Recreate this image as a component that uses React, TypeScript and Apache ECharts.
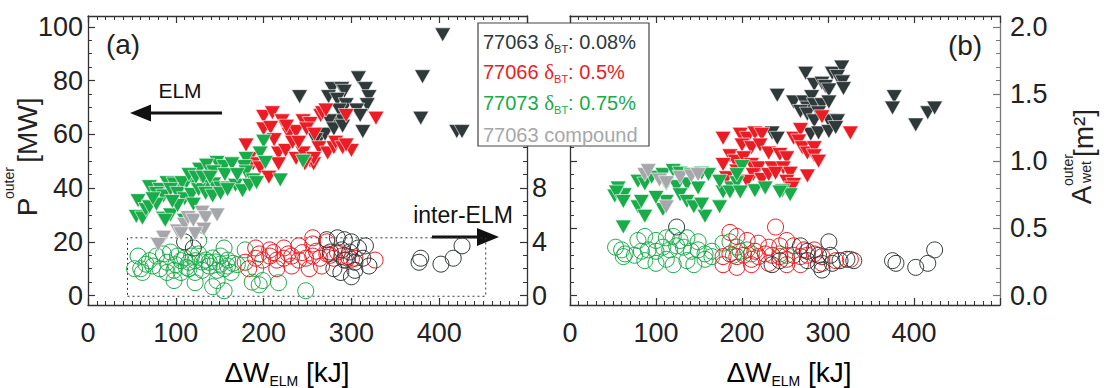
import { useEffect, useRef } from 'react';
import * as echarts from 'echarts';

// ---------- colours ----------
const DARK = '#2f3939';
const RED = '#ec1c24';
const GREEN = '#1aab4a';
const GRAY = '#a6a7ab';
const AXIS = '#333333';
const FONT = "'Liberation Sans', Arial, Helvetica, sans-serif";

// ---------- tick labels ----------
const X_TICKS = [0, 100, 200, 300, 400];
const P_TICKS = [0, 20, 40, 60, 80, 100];
const MW_TICKS = [0, 4, 8, 12, 16, 20];
const MW_LABELS = [0, 4, 8]; // 12, 16, 20 lie under the legend box
const A_TICKS = [0, 0.5, 1.0, 1.5, 2.0];

// ---------- panel (a): ELM peak power P_outer [MW] vs dW_ELM [kJ] ----------
const aElm77063: number[][] = [
  [404, 97], [381, 81.4], [379, 66], [420, 61], [426, 61], [241, 74], [278, 77], [289, 77], [292, 76],
  [308, 81], [316, 77], [320, 74], [318, 71], [274, 74], [284, 73], [294, 71], [306, 69], [310, 67],
  [286, 69], [281, 64], [290, 65], [275, 65], [313, 61], [263, 58], [270, 60], [259, 58], [280, 62], [290, 63],
];
const aElm77066: number[][] = [
  [180, 56], [200, 66.6], [210, 68], [221, 65], [200, 62], [208, 62.5], [184, 51], [188, 49], [196, 47.5],
  [206, 44], [217, 53], [225, 54], [217, 49], [229, 60], [237, 61], [233, 57], [245, 65], [253, 64], [249, 62],
  [237, 51], [245, 53], [253, 50], [257, 49], [265, 67], [267, 68], [271, 69], [263, 55], [273, 53], [280, 55],
  [282, 57], [290, 55], [300, 54], [294, 56], [294, 67], [328, 66], [249, 50], [257, 51], [247, 49],
  [212, 58], [226, 63], [240, 57], [258, 60],
];
const aElm77073: number[][] = [
  [200, 57.4], [196, 53], [202, 49.5], [180, 51], [178, 48], [180, 46], [188, 43], [219, 43], [245, 50],
  [147, 49.5], [155, 48], [164, 49], [127, 47], [135, 48.5], [143, 46], [119, 43], [111, 41.5], [103, 41],
  [70, 40.5], [82, 39.5], [90, 42], [98, 41.5], [107, 42], [135, 41], [143, 41.5], [151, 40], [160, 40],
  [168, 41], [176, 39], [184, 41], [192, 42],
  [57, 35.3], [55, 29.4], [62, 28.8], [66, 32], [78, 38], [86, 37], [94, 39.5], [86, 28.8], [94, 30],
  [102, 38], [110, 36], [118, 37.6], [126, 39.4], [134, 38], [142, 37], [151, 38], [159, 39.4], [70, 33],
  [78, 34], [88, 28], [102, 33.5], [110, 28],
  [115, 45], [123, 44], [131, 44], [139, 44], [156, 45], [170, 45], [96, 35], [120, 34], [74, 36],
];
const aCompound77063: number[][] = [
  [86, 21.7], [80, 19], [102, 24], [110, 26.5], [114, 29], [120, 28], [130, 31], [134, 29], [147, 30],
  [132, 24.7], [122, 23], [106, 23],
];
// inter-ELM power [MW] (right axis of panel a)
const aInter77063: number[][] = [
  [272, 4.16], [284, 4.3], [292, 4.16], [300, 4.0], [276, 3.24], [289, 3.4], [298, 3.24], [308, 3.54],
  [316, 3.7], [280, 2.0], [292, 2.64], [304, 1.88], [313, 2.78], [320, 2.2], [288, 1.72], [300, 1.4],
  [304, 2.48], [110, 4.0], [120, 3.54], [377, 2.48], [379, 2.78], [402, 2.34], [416, 2.78], [426, 3.7],
];
const aInter77066: number[][] = [
  [179, 2.48], [191, 2.78], [199, 2.64], [207, 2.94], [215, 2.64], [223, 2.78], [232, 2.94], [240, 2.64],
  [248, 2.78], [256, 2.94], [264, 2.78], [272, 3.1], [280, 2.78], [289, 2.94], [294, 2.64], [304, 2.78],
  [191, 3.54], [207, 3.4], [223, 3.54], [240, 3.7], [256, 3.84], [272, 4.0], [284, 3.24], [327, 2.64],
  [256, 4.3], [183, 2.0], [215, 2.0], [232, 2.2], [252, 2.0], [266, 2.2], [195, 3.1], [211, 3.2],
  [228, 3.1], [244, 3.2], [260, 3.3], [276, 3.0], [296, 2.9], [300, 2.7],
];
const aInter77073: number[][] = [
  [57, 2.94], [60, 2.0], [66, 2.34], [62, 1.72], [53, 2.0], [78, 2.94], [86, 3.1], [94, 3.24], [102, 2.94],
  [110, 2.8], [118, 2.94], [126, 3.1], [134, 2.64], [142, 2.8], [151, 2.94], [159, 2.64], [82, 2.0],
  [90, 1.72], [98, 1.88], [106, 1.72], [115, 2.0], [122, 1.72], [130, 1.88], [138, 2.2], [147, 1.88],
  [155, 2.0], [163, 1.72], [98, 1.12], [122, 0.96], [142, 0.66], [155, 0.36], [147, 1.12], [126, 4.1],
  [155, 3.54], [179, 3.4], [191, 2.0], [195, 0.8], [199, 1.12], [217, 0.96], [187, 1.0], [248, 0.36],
  [90, 2.48], [115, 2.48], [138, 2.48], [151, 2.34], [159, 2.2], [70, 2.6], [74, 2.2], [106, 2.6],
  [122, 2.6], [130, 2.5], [145, 2.5], [165, 2.4], [170, 2.3], [100, 2.3], [112, 2.1],
];
// dotted box around the inter-ELM points (right axis units)
const aInterBox: number[][] = [[45, -0.05], [453, -0.05], [453, 4.3], [45, 4.3], [45, -0.05]];

// ---------- panel (b): wetted area A_wet^outer [m^2] ----------
const bElm77063: number[][] = [
  [274, 1.654], [305, 1.654], [316, 1.70], [311, 1.63], [317, 1.59], [318, 1.54], [284, 1.57], [293, 1.58],
  [297, 1.556], [301, 1.53], [241, 1.49], [260, 1.44], [272, 1.44], [281, 1.48], [276, 1.395], [284, 1.42],
  [293, 1.42], [301, 1.44], [268, 1.37], [276, 1.35], [289, 1.36], [284, 1.30], [301, 1.30], [311, 1.30],
  [280, 1.20], [289, 1.21], [301, 1.22], [309, 1.25], [235, 1.21], [241, 1.17], [377, 1.48], [375, 1.395],
  [402, 1.27], [416, 1.36], [424, 1.395],
];
const bElm77066: number[][] = [
  [293, 1.33], [326, 1.21], [178, 1.17], [198, 1.20], [206, 1.17], [215, 1.21], [223, 1.20], [200, 1.12],
  [211, 1.10], [221, 1.12], [260, 1.17], [268, 1.235], [266, 1.15], [270, 1.10], [276, 1.06], [284, 1.10],
  [284, 1.04], [289, 1.0], [186, 1.04], [192, 1.0], [178, 0.975], [202, 1.025], [211, 0.975], [219, 0.95],
  [213, 0.90], [231, 1.06], [244, 1.05], [252, 1.025], [235, 0.95], [248, 0.95], [256, 0.91], [206, 0.85],
  [223, 0.864], [231, 0.90], [239, 0.91], [252, 0.85], [260, 0.827], [276, 0.89], [254, 0.78], [258, 0.80],
  [182, 0.877], [194, 0.926],
];
const bElm77073: number[][] = [
  [56, 0.80], [63, 0.75], [52, 0.74], [79, 0.85], [87, 0.83], [95, 0.88], [108, 0.90], [120, 0.93],
  [128, 0.91], [141, 0.90], [153, 0.91], [161, 0.90], [112, 0.83], [124, 0.81], [136, 0.83], [149, 0.80],
  [178, 0.77], [188, 0.80], [194, 0.84], [200, 0.96], [194, 0.90], [215, 0.78], [227, 0.80], [247, 0.78],
  [256, 0.75], [174, 0.85], [54, 0.77], [62, 0.70], [62, 0.51], [79, 0.66], [87, 0.59], [83, 0.70],
  [108, 0.64], [112, 0.70], [100, 0.73], [128, 0.75], [136, 0.70], [144, 0.66], [157, 0.59], [153, 0.68],
  [174, 0.66], [186, 0.77], [198, 0.77], [244, 0.77],
];
const bCompound77063: number[][] = [
  [87, 0.90], [91, 0.93], [104, 0.86], [112, 0.84], [128, 0.88], [141, 0.89], [149, 0.90], [112, 0.66],
];
const bInter77063: number[][] = [
  [124, 0.51], [268, 0.37], [276, 0.33], [289, 0.30], [301, 0.40], [303, 0.30], [314, 0.26], [322, 0.27],
  [330, 0.26], [235, 0.23], [244, 0.26], [276, 0.26], [289, 0.23], [293, 0.19], [305, 0.24], [375, 0.26],
  [379, 0.24], [402, 0.21], [416, 0.24], [424, 0.34],
];
const bInter77066: number[][] = [
  [178, 0.29], [186, 0.31], [194, 0.29], [202, 0.30], [211, 0.27], [219, 0.29], [227, 0.31], [235, 0.30],
  [244, 0.29], [252, 0.27], [260, 0.30], [268, 0.29], [276, 0.30], [284, 0.31], [293, 0.29], [186, 0.47],
  [194, 0.44], [206, 0.41], [219, 0.39], [231, 0.36], [239, 0.51], [252, 0.41], [260, 0.37], [272, 0.34],
  [284, 0.34], [178, 0.23], [194, 0.21], [211, 0.23], [231, 0.24], [252, 0.23], [268, 0.23], [293, 0.24],
  [309, 0.26], [326, 0.27], [215, 0.33], [244, 0.37],
];
const bInter77073: number[][] = [
  [60, 0.34], [64, 0.31], [53, 0.36], [62, 0.29], [75, 0.30], [83, 0.33], [91, 0.34], [100, 0.33],
  [108, 0.36], [116, 0.34], [124, 0.37], [132, 0.36], [141, 0.33], [149, 0.34], [157, 0.31], [165, 0.33],
  [79, 0.41], [87, 0.44], [100, 0.41], [112, 0.43], [120, 0.44], [128, 0.41], [136, 0.43], [149, 0.40],
  [87, 0.26], [100, 0.24], [112, 0.27], [120, 0.23], [136, 0.26], [144, 0.23], [157, 0.27], [165, 0.29],
  [178, 0.39], [186, 0.40], [194, 0.36], [206, 0.34], [211, 0.31], [244, 0.31], [252, 0.30], [190, 0.30],
  [198, 0.33],
];

function range(a: number, b: number, step: number): number[] {
  const out: number[] = [];
  for (let i = 0; a + i * step <= b + 1e-9; i++) out.push(+(a + i * step).toFixed(4));
  return out;
}

const P_MINOR = range(0, 100, 5);
const MW_MINOR = range(0, 20, 1);
const A_MINOR = range(0, 2, 0.1);

const labelStyle = { fontFamily: FONT, fontSize: 27, color: '#222' };

function xAxis(grid: number, pos: 'bottom' | 'top', labels: boolean, color: string) {
  return {
    type: 'value', gridIndex: grid, position: pos, min: 0, max: 500, interval: 100,
    axisLine: { show: true, onZero: false, lineStyle: { color, width: 1.3 } },
    axisTick: { show: true, inside: true, length: 7, lineStyle: { color, width: 1.2 } },
    minorTick: { show: true, splitNumber: 10, length: 4, lineStyle: { color, width: 1 } },
    axisLabel: {
      show: labels, margin: 14, showMaxLabel: false, ...labelStyle,
      formatter: (v: number) => (X_TICKS.includes(v) ? String(v) : ''),
    },
    splitLine: { show: false }, minorSplitLine: { show: false },
  };
}

function yAxis(grid: number, pos: 'left' | 'right', min: number, max: number, ticks: number[],
  labelVals: number[], minor: number[], labels: boolean, color: string, fmt?: (v: number) => string, margin = 6) {
  const major = {
    type: 'value', gridIndex: grid, position: pos, min, max,
    axisLine: { show: true, onZero: false, lineStyle: { color, width: 1.3 } },
    axisTick: { show: true, inside: true, length: 7, customValues: ticks, lineStyle: { color, width: 1.2 } },
    axisLabel: { show: labels, customValues: labelVals, margin, formatter: fmt, ...labelStyle },
    splitLine: { show: false },
  };
  const min2 = {
    type: 'value', gridIndex: grid, position: pos, min, max,
    axisLine: { show: false, onZero: false },
    axisTick: { show: true, inside: true, length: 4, customValues: minor, lineStyle: { color, width: 1 } },
    axisLabel: { show: false },
    splitLine: { show: false },
  };
  return [major, min2];
}

function tri(name: string, data: number[][], color: string, xi: number, yi: number, z = 3) {
  return {
    name, type: 'scatter', data, xAxisIndex: xi, yAxisIndex: yi, silent: true, z,
    symbol: 'triangle', symbolRotate: 180, symbolSize: [16, 14],
    itemStyle: { color, borderColor: '#ffffff', borderWidth: 0.6, opacity: 1 },
  };
}
function ring(name: string, data: number[][], color: string, xi: number, yi: number) {
  return {
    name, type: 'scatter', data, xAxisIndex: xi, yAxisIndex: yi, silent: true, z: 2,
    symbol: 'circle', symbolSize: 16,
    itemStyle: { color: 'rgba(0,0,0,0)', borderColor: color, borderWidth: 1, opacity: 1 },
  };
}

const ROT = Math.PI / 2;
const rich = {
  m: { fontFamily: FONT, fontSize: 28, color: '#222', lineHeight: 32 },
  s: { fontFamily: FONT, fontSize: 14, color: '#222', lineHeight: 14, verticalAlign: 'bottom' },
};
function legendLine(y: number, id: string, val: string, color: string) {
  return {
    type: 'text', x: 483, y, z: 101,
    style: {
      text: `{n|${id} }{d|δ}{s|BT}{n|: ${val}}`,
      verticalAlign: 'middle', align: 'left',
      rich: {
        n: { fontFamily: FONT, fontSize: 20, fill: color, lineHeight: 24 },
        d: { fontFamily: "'Liberation Serif', serif", fontSize: 21, fill: color, lineHeight: 24 },
        s: { fontFamily: FONT, fontSize: 11, fill: color, lineHeight: 12, verticalAlign: 'bottom' },
      },
    },
  };
}

const option = {
  animation: false,
  backgroundColor: '#ffffff',
  grid: [
    { left: 88, top: 16, width: 439, height: 289 },
    { left: 570, top: 16, width: 430, height: 289 },
  ],
  xAxis: [
    xAxis(0, 'bottom', true, AXIS),
    xAxis(0, 'top', false, AXIS),
    xAxis(1, 'bottom', true, AXIS),
    xAxis(1, 'top', false, AXIS),
  ],
  yAxis: [
    ...yAxis(0, 'left', -3.5, 104, P_TICKS, P_TICKS, P_MINOR, true, AXIS, undefined, 5),
    ...yAxis(0, 'right', -0.7, 20.8, MW_TICKS, MW_LABELS, MW_MINOR, true, AXIS, undefined, 5),
    ...yAxis(1, 'left', -0.07, 2.08, A_TICKS, A_TICKS, A_MINOR, false, AXIS),
    ...yAxis(1, 'right', -0.07, 2.08, A_TICKS, A_TICKS, A_MINOR, true, '#777777', (v: number) => v.toFixed(1), 10),
  ],
  series: [
    {
      type: 'line', data: aInterBox, xAxisIndex: 0, yAxisIndex: 2, silent: true, z: 1,
      showSymbol: false, symbol: 'none', lineStyle: { color: '#333', width: 1, type: [2, 3] },
    },
    ring('77073 inter-ELM (a)', aInter77073, GREEN, 0, 2),
    ring('77066 inter-ELM (a)', aInter77066, RED, 0, 2),
    ring('77063 inter-ELM (a)', aInter77063, DARK, 0, 2),
    tri('77063 ELM (a)', aElm77063, DARK, 0, 0, 3),
    tri('77066 ELM (a)', aElm77066, RED, 0, 0, 4),
    tri('77073 ELM (a)', aElm77073, GREEN, 0, 0, 5),
    tri('77063 compound (a)', aCompound77063, GRAY, 0, 0, 6),
    ring('77073 inter-ELM (b)', bInter77073, GREEN, 2, 6),
    ring('77066 inter-ELM (b)', bInter77066, RED, 2, 6),
    ring('77063 inter-ELM (b)', bInter77063, DARK, 2, 6),
    tri('77063 ELM (b)', bElm77063, DARK, 2, 6, 3),
    tri('77066 ELM (b)', bElm77066, RED, 2, 6, 4),
    tri('77073 ELM (b)', bElm77073, GREEN, 2, 6, 5),
    tri('77063 compound (b)', bCompound77063, GRAY, 2, 6, 6),
  ],
  graphic: [
    // panel labels
    { type: 'text', x: 123, y: 44, style: { text: '(a)', fontFamily: FONT, fontSize: 28, fill: '#222', align: 'center', verticalAlign: 'middle' } },
    { type: 'text', x: 965, y: 45, style: { text: '(b)', fontFamily: FONT, fontSize: 28, fill: '#222', align: 'center', verticalAlign: 'middle' } },
    // ELM annotation
    { type: 'text', x: 180, y: 90, style: { text: 'ELM', fontFamily: FONT, fontSize: 21, fill: '#111', align: 'center', verticalAlign: 'middle' } },
    { type: 'line', shape: { x1: 222, y1: 113, x2: 146, y2: 113 }, style: { stroke: '#111', lineWidth: 3 } },
    { type: 'polygon', shape: { points: [[130, 113], [151, 104.5], [151, 121.5]] }, style: { fill: '#111' } },
    // inter-ELM annotation
    { type: 'text', x: 463, y: 215, style: { text: 'inter-ELM', fontFamily: FONT, fontSize: 23, fill: '#111', align: 'center', verticalAlign: 'middle' } },
    { type: 'line', shape: { x1: 432, y1: 237, x2: 482, y2: 237 }, style: { stroke: '#111', lineWidth: 3 } },
    { type: 'polygon', shape: { points: [[499, 237], [477, 228], [477, 246]] }, style: { fill: '#111' } },
    // x axis names
    { type: 'text', x: 287, y: 372, style: { text: '{m|ΔW}{s|ELM}{m| [kJ]}', align: 'center', verticalAlign: 'middle', rich } },
    { type: 'text', x: 789, y: 372, style: { text: '{m|ΔW}{s|ELM}{m| [kJ]}', align: 'center', verticalAlign: 'middle', rich } },
    // y axis name (a)
    { type: 'text', x: 27, y: 207, rotation: ROT, style: { text: 'P', fontFamily: FONT, fontSize: 28, fill: '#222', align: 'center', verticalAlign: 'middle' } },
    { type: 'text', x: 9, y: 183, rotation: ROT, style: { text: 'outer', fontFamily: FONT, fontSize: 14, fill: '#222', align: 'center', verticalAlign: 'middle' } },
    { type: 'text', x: 27, y: 130, rotation: ROT, style: { text: '[MW]', fontFamily: FONT, fontSize: 28, fill: '#222', align: 'center', verticalAlign: 'middle' } },
    // y axis name (b)
    { type: 'text', x: 1081, y: 195, rotation: ROT, style: { text: 'A', fontFamily: FONT, fontSize: 28, fill: '#222', align: 'center', verticalAlign: 'middle' } },
    { type: 'text', x: 1068, y: 170, rotation: ROT, style: { text: 'outer', fontFamily: FONT, fontSize: 14, fill: '#222', align: 'center', verticalAlign: 'middle' } },
    { type: 'text', x: 1086, y: 172, rotation: ROT, style: { text: 'wet', fontFamily: FONT, fontSize: 14, fill: '#222', align: 'center', verticalAlign: 'middle' } },
    { type: 'text', x: 1083, y: 133, rotation: ROT, style: { text: '[m²]', fontFamily: FONT, fontSize: 28, fill: '#222', align: 'center', verticalAlign: 'middle' } },
    // legend box
    { type: 'rect', z: 100, shape: { x: 478, y: 23, width: 171, height: 123 }, style: { fill: '#ffffff', stroke: '#444', lineWidth: 1.2 } },
    legendLine(42, '77063', '0.08%', DARK),
    legendLine(72, '77066', '0.5%', RED),
    legendLine(103, '77073', '0.75%', GREEN),
    { type: 'text', x: 483, y: 135, z: 101, style: { text: '77063 compound', fontFamily: FONT, fontSize: 20, fill: GRAY, align: 'left', verticalAlign: 'middle' } },
  ],
};

export default function App() {
  const ref = useRef<HTMLDivElement>(null);
  useEffect(() => {
    const chart = echarts.init(ref.current!, null, { renderer: 'svg' });
    chart.setOption(option as any);
    return () => chart.dispose();
  }, []);
  return <div ref={ref} style={{ position: 'fixed', left: 0, top: 0, width: 1108, height: 388 }} />;
}
